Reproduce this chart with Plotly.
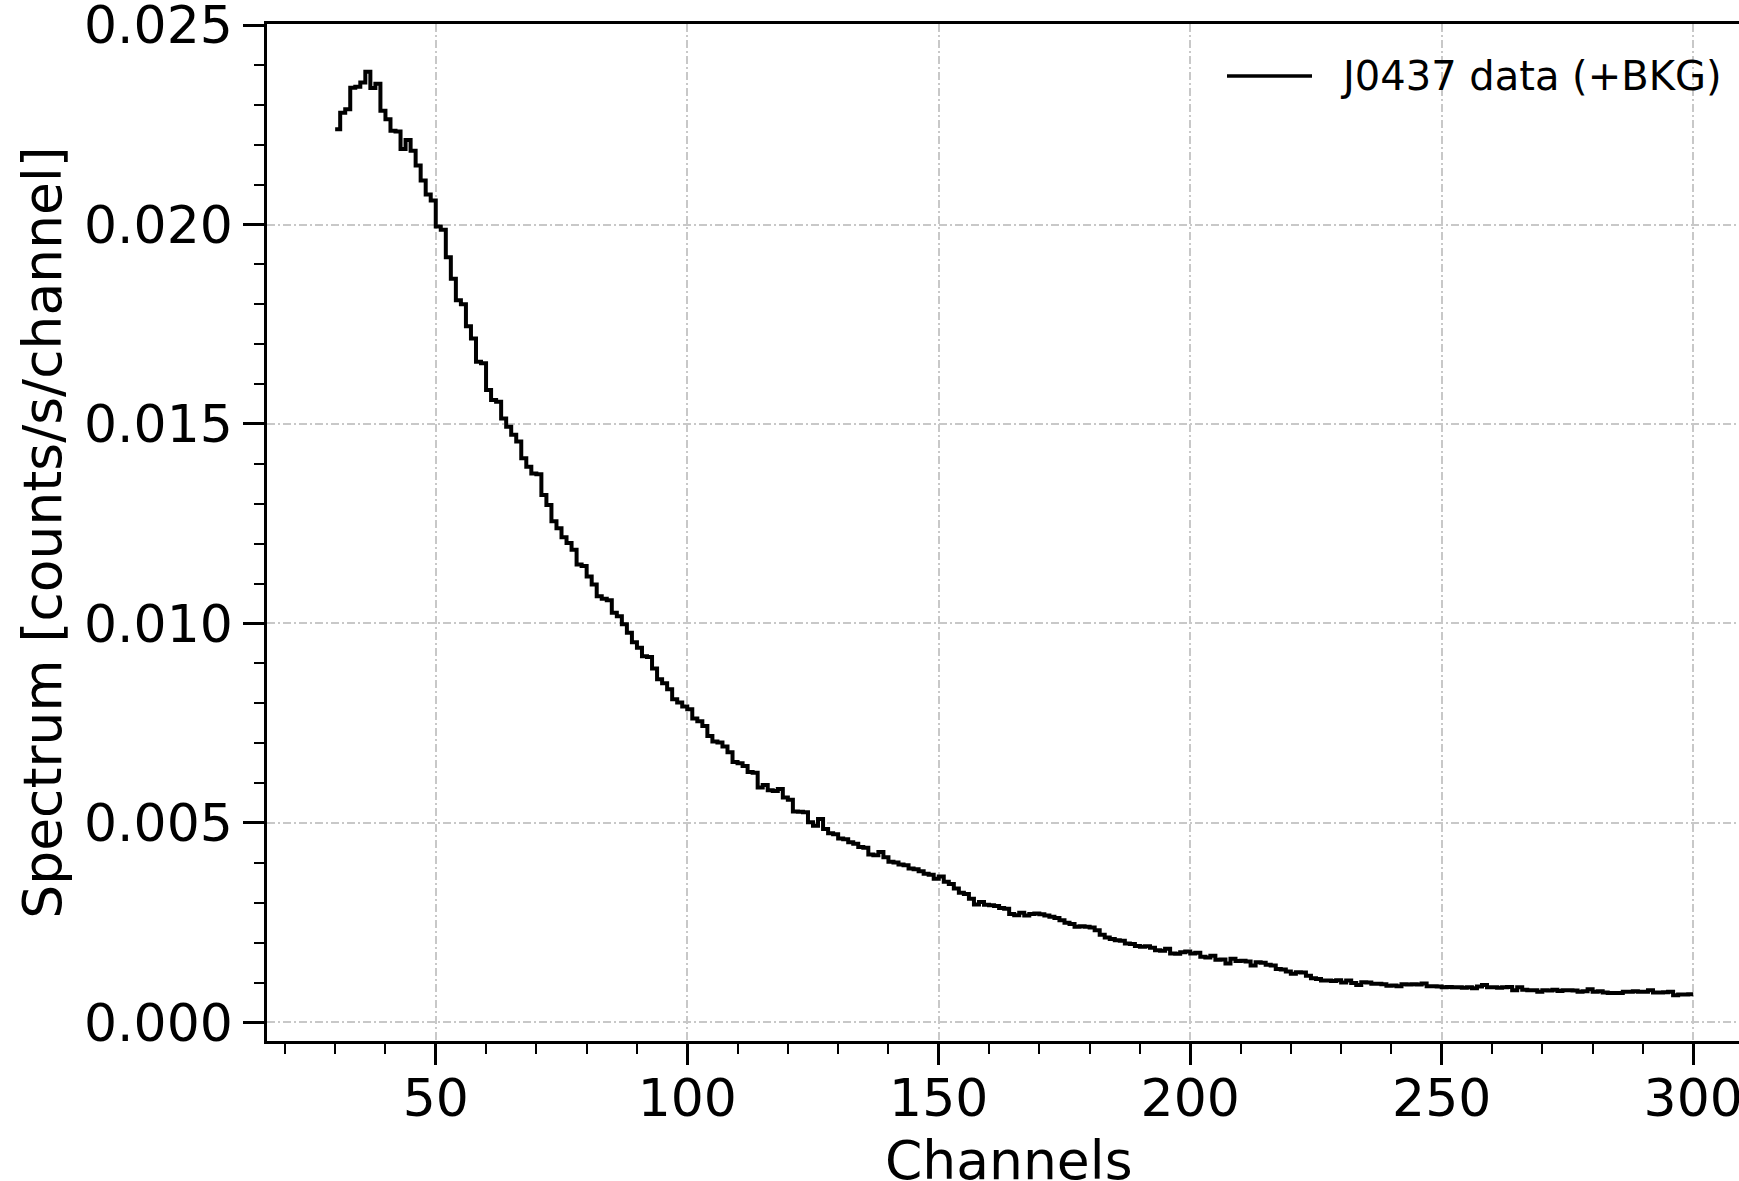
import plotly.graph_objects as go

# Background-inclusive pulse-height spectrum of J0437, one value per channel
# starting at channel 30 (values in units of 1e-3 counts/s/channel).
FIRST_CHANNEL = 30
SPECTRUM_E3 = [
    22.39, 22.80, 22.89, 23.43, 23.45, 23.56, 23.83, 23.42, 23.53, 22.85,
    22.64, 22.35, 22.33, 21.89, 22.12, 21.85, 21.48, 21.10, 20.75, 20.60,
    19.95, 19.87, 19.18, 18.64, 18.10, 18.00, 17.45, 17.14, 16.56, 16.52,
    15.85, 15.60, 15.56, 15.14, 14.93, 14.73, 14.56, 14.14, 13.93, 13.76,
    13.74, 13.22, 12.97, 12.56, 12.39, 12.16, 12.02, 11.85, 11.48, 11.44,
    11.18, 10.98, 10.68, 10.62, 10.58, 10.27, 10.18, 9.98, 9.77, 9.53,
    9.39, 9.18, 9.16, 8.87, 8.60, 8.50, 8.35, 8.10, 8.02, 7.92,
    7.85, 7.62, 7.55, 7.43, 7.18, 7.04, 7.02, 6.92, 6.77, 6.53,
    6.50, 6.43, 6.28, 6.26, 5.89, 5.95, 5.82, 5.80, 5.85, 5.64,
    5.58, 5.29, 5.28, 5.27, 5.02, 4.93, 5.10, 4.85, 4.74, 4.72,
    4.61, 4.59, 4.52, 4.48, 4.40, 4.38, 4.21, 4.19, 4.27, 4.14,
    4.03, 4.01, 3.96, 3.94, 3.86, 3.84, 3.79, 3.73, 3.70, 3.60,
    3.66, 3.53, 3.47, 3.36, 3.25, 3.22, 3.10, 2.96, 3.02, 2.95,
    2.94, 2.92, 2.87, 2.85, 2.72, 2.69, 2.75, 2.68, 2.72, 2.73,
    2.71, 2.68, 2.65, 2.62, 2.56, 2.50, 2.47, 2.40, 2.41, 2.40,
    2.38, 2.31, 2.20, 2.13, 2.09, 2.06, 2.05, 1.98, 1.97, 1.92,
    1.90, 1.91, 1.87, 1.81, 1.80, 1.85, 1.73, 1.72, 1.76, 1.78,
    1.73, 1.75, 1.65, 1.63, 1.67, 1.57, 1.58, 1.48, 1.60, 1.54,
    1.55, 1.53, 1.43, 1.51, 1.50, 1.45, 1.43, 1.34, 1.33, 1.28,
    1.22, 1.26, 1.25, 1.17, 1.11, 1.09, 1.05, 1.05, 1.04, 1.06,
    1.00, 1.05, 0.99, 0.94, 1.01, 1.00, 0.97, 0.97, 0.96, 0.92,
    0.93, 0.91, 0.96, 0.95, 0.96, 0.95, 0.98, 0.91, 0.91, 0.90,
    0.88, 0.89, 0.88, 0.88, 0.87, 0.88, 0.86, 0.90, 0.94, 0.88,
    0.88, 0.87, 0.88, 0.89, 0.81, 0.88, 0.82, 0.81, 0.81, 0.77,
    0.81, 0.80, 0.82, 0.79, 0.81, 0.81, 0.80, 0.77, 0.78, 0.83,
    0.77, 0.78, 0.75, 0.74, 0.74, 0.74, 0.77, 0.77, 0.78, 0.77,
    0.77, 0.81, 0.75, 0.75, 0.76, 0.77, 0.68, 0.70, 0.70, 0.71,
]
CHANNELS = list(range(FIRST_CHANNEL, FIRST_CHANNEL + len(SPECTRUM_E3)))

SERIES_NAME = "J0437 data (+BKG)"
X_TITLE = "Channels"
Y_TITLE = "Spectrum [counts/s/channel]"
X_TICKS = [50, 100, 150, 200, 250, 300]
Y_TICKS = [0.0, 0.005, 0.010, 0.015, 0.020, 0.025]
Y_TICK_TEXT = ["0.000", "0.005", "0.010", "0.015", "0.020", "0.025"]
X_RANGE = [16.45, 309.1]
Y_RANGE = [-0.000464, 0.025025]

# Figure geometry (pixels)
FIG_W, FIG_H = 1739, 1181
M_L, M_R, M_T, M_B = 267, 0, 24, 140
PLOT_W = FIG_W - M_L - M_R
PLOT_H = FIG_H - M_T - M_B

FONT = "DejaVu Sans"
TICK_SIZE = 52
TITLE_SIZE = 53.5
GRID_COLOR = "#c8c8c8"
GRID_DASH = "8px,3px,2px,3px"

# Step histogram: each channel spans [c, c+1)
spectrum = [v * 1e-3 for v in SPECTRUM_E3]
edges = CHANNELS + [CHANNELS[-1] + 1]
levels = spectrum + [spectrum[-1]]

fig = go.Figure()
fig.add_trace(go.Scatter(
    x=edges, y=levels, mode="lines", name=SERIES_NAME,
    line=dict(color="black", width=4, shape="hv"),
    showlegend=False,
))

axis_common = dict(
    automargin=False,
    ticks="outside", ticklen=21, tickwidth=2.5, tickcolor="black",
    showline=True, linewidth=2.5, linecolor="black",
    showgrid=True, gridcolor=GRID_COLOR, gridwidth=1.5, griddash=GRID_DASH,
    zeroline=False,
    ticklabeloverflow="allow",
    tickfont=dict(family=FONT, size=TICK_SIZE, color="black"),
)

fig.update_xaxes(
    range=X_RANGE, tickmode="array", tickvals=X_TICKS,
    ticktext=[str(t) for t in X_TICKS], mirror=True,
    ticklabelstandoff=-11,
    minor=dict(dtick=10, tick0=0, ticks="outside", ticklen=10.5, tickwidth=2,
               tickcolor="black", showgrid=False),
    **axis_common,
)
fig.update_yaxes(
    range=Y_RANGE, tickmode="array", tickvals=Y_TICKS, ticktext=Y_TICK_TEXT,
    mirror=False,
    title=dict(text=Y_TITLE, font=dict(family=FONT, size=TITLE_SIZE, color="black"), standoff=6),
    minor=dict(dtick=0.001, tick0=0, ticks="outside", ticklen=10.5, tickwidth=2,
               tickcolor="black", showgrid=False),
    **axis_common,
)

def px_to_paper_x(px):
    return (px - M_L) / PLOT_W

def px_to_paper_y(py):
    return 1 - (py - M_T) / PLOT_H

# X-axis title, centred under the full axes box (which runs past the right edge)
fig.add_annotation(
    xref="paper", yref="paper", x=px_to_paper_x(1009), y=px_to_paper_y(1160),
    xanchor="center", yanchor="middle", showarrow=False,
    text=X_TITLE, font=dict(family=FONT, size=TITLE_SIZE, color="black"),
)

# Legend key drawn as a short line plus label in the upper right
legend_y = px_to_paper_y(76)
fig.add_shape(
    type="line", xref="paper", yref="paper",
    x0=px_to_paper_x(1227), x1=px_to_paper_x(1312), y0=legend_y, y1=legend_y,
    line=dict(color="black", width=3.5),
)
fig.add_annotation(
    xref="paper", yref="paper", x=px_to_paper_x(1338), y=legend_y,
    xanchor="left", yanchor="middle", showarrow=False,
    text=SERIES_NAME, font=dict(family=FONT, size=40, color="black"),
)

fig.update_layout(
    width=FIG_W, height=FIG_H,
    margin=dict(l=M_L, r=M_R, t=M_T, b=M_B, pad=0),
    plot_bgcolor="white", paper_bgcolor="white",
    font=dict(family=FONT, color="black"),
    showlegend=False,
)

fig.write_html("out.html")
